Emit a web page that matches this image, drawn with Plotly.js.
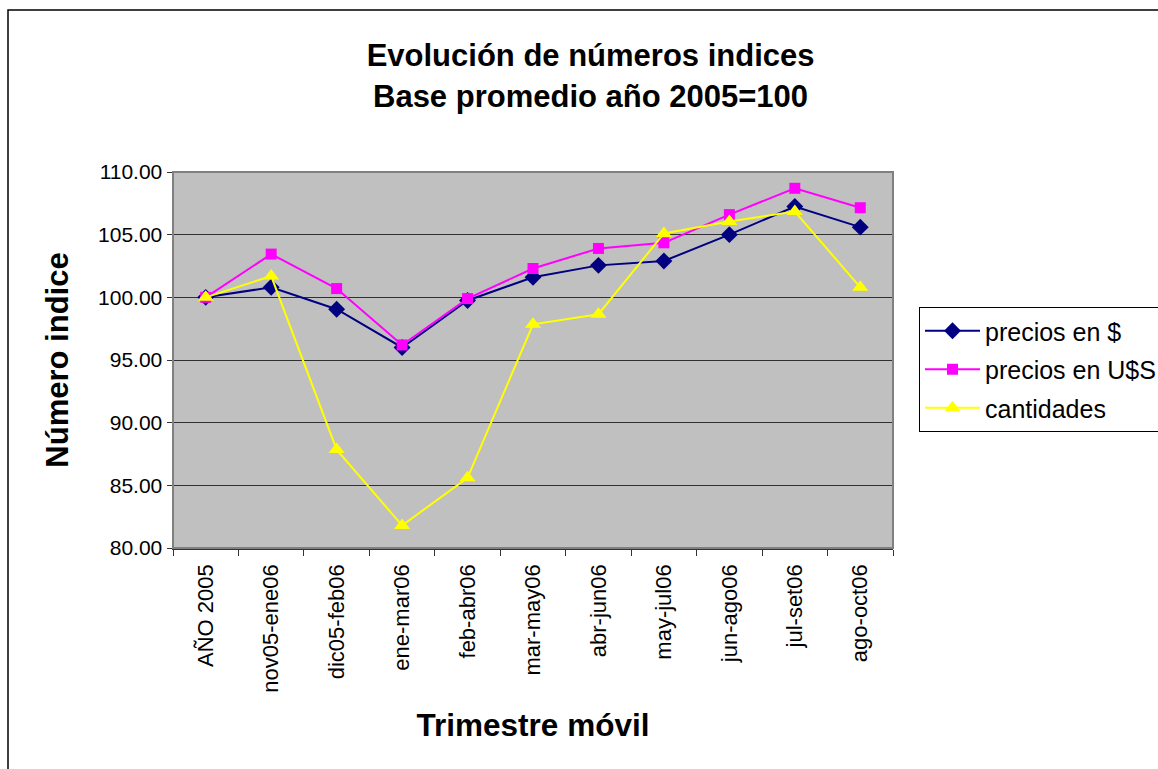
<!DOCTYPE html>
<html>
<head>
<meta charset="utf-8">
<script src="https://cdn.plot.ly/plotly-3.0.1.min.js"></script>
<style>html,body{margin:0;padding:0;background:#fff;}#chart{width:1158px;height:769px;}</style>
</head>
<body>
<div id="chart"></div>
<script>
const categories = ["AÑO 2005","nov05-ene06","dic05-feb06","ene-mar06","feb-abr06","mar-may06","abr-jun06","may-jul06","jun-ago06","jul-set06","ago-oct06"];
const preciosPesos = [100.0, 100.8, 99.05, 96.0, 99.75, 101.6, 102.55, 102.9, 105.0, 107.25, 105.6];
const preciosDolares = [100.0, 103.45, 100.7, 96.2, 99.9, 102.3, 103.9, 104.35, 106.6, 108.7, 107.15];
const cantidades = [100.0, 101.7, 87.85, 81.8, 85.6, 97.85, 98.65, 105.1, 106.05, 106.85, 100.8];
const seriesNames = ["precios en $", "precios en U$S", "cantidades"];
const yTicks = [80, 85, 90, 95, 100, 105, 110];

const font = "Arial, 'Liberation Sans', sans-serif";

const traces = [
  {x: categories, y: preciosPesos, name: seriesNames[0], legendgroup: 'g1', type: 'scatter', mode: 'lines+markers',
   line: {color: '#000080', width: 2}, marker: {symbol: 'diamond', size: 13, color: '#000080'}},
  {x: categories, y: preciosDolares, name: seriesNames[1], legendgroup: 'g2', type: 'scatter', mode: 'lines+markers',
   line: {color: '#FF00FF', width: 2}, marker: {symbol: 'square', size: 11, color: '#FF00FF'}},
  {x: categories, y: cantidades, name: seriesNames[2], legendgroup: 'g3', type: 'scatter', mode: 'lines+markers',
   line: {color: '#FFFF00', width: 2}, marker: {symbol: 'triangle-up', size: 14, color: '#FFFF00'}}
];

const layout = {
  width: 1158, height: 769,
  margin: {l: 173, r: 265, t: 172, b: 221, pad: 0, autoexpand: false},
  paper_bgcolor: '#ffffff',
  plot_bgcolor: '#C0C0C0',
  font: {family: font, color: '#000'},
  title: {text: "Evolución de números indices", font: {family: font, size: 31, color: '#000', weight: 'bold'},
          x: 0.58, xref: 'paper', xanchor: 'center', y: 1 - 55/769, yref: 'container', yanchor: 'middle'},
  annotations: [
    {text: "<b>Base promedio año 2005=100</b>", xref: 'paper', yref: 'paper', x: 0.58, y: (548-97)/376,
     xanchor: 'center', yanchor: 'middle', showarrow: false, font: {family: font, size: 31, color: '#000'}}
  ],
  xaxis: {
    type: 'category', categoryorder: 'array', categoryarray: categories, range: [-0.5, 10.5],
    tickangle: -90, tickfont: {family: font, size: 22, color: '#000'}, ticklabelstandoff: 6,
    ticks: 'outside', tickson: 'boundaries', ticklen: 6, tickcolor: '#333', tickwidth: 1,
    showline: true, linecolor: '#333', linewidth: 1.5, showgrid: false, zeroline: false,
    title: {text: "<b>Trimestre móvil</b>", font: {family: font, size: 31.5, color: '#000'}, standoff: 22},
    automargin: false
  },
  yaxis: {
    range: [80, 110], tickvals: yTicks, tickformat: '.2f',
    tickfont: {family: font, size: 21, color: '#000'},
    ticks: 'outside', ticklen: 5, tickcolor: '#333', tickwidth: 1,
    showline: true, linecolor: '#333', linewidth: 1.5,
    showgrid: true, gridcolor: '#303030', gridwidth: 1, zeroline: false,
    title: {text: "<b>Número indice</b>", font: {family: font, size: 31, color: '#000'}, standoff: 20},
    automargin: false
  },
  legend: {
    x: (919-173)/720, xanchor: 'left', y: (548-307)/376, yanchor: 'top',
    bgcolor: '#ffffff', bordercolor: '#000', borderwidth: 1,
    font: {family: font, size: 25, color: '#000'}, itemwidth: 55, tracegroupgap: 3
  },
  shapes: [
    {type: 'rect', xref: 'paper', yref: 'paper', x0: 0, x1: 1, y0: 0, y1: 1,
     line: {color: '#808080', width: 2}, fillcolor: 'rgba(0,0,0,0)', layer: 'above'},
    {type: 'rect', xref: 'paper', yref: 'paper', x0: (8-173)/720, x1: 2, y0: -1, y1: (548-10)/376,
     line: {color: '#000', width: 1.5}, fillcolor: 'rgba(0,0,0,0)'}
  ],
  showlegend: true
};

Plotly.newPlot('chart', traces, layout, {displayModeBar: false, staticPlot: true});
</script>
</body>
</html>
